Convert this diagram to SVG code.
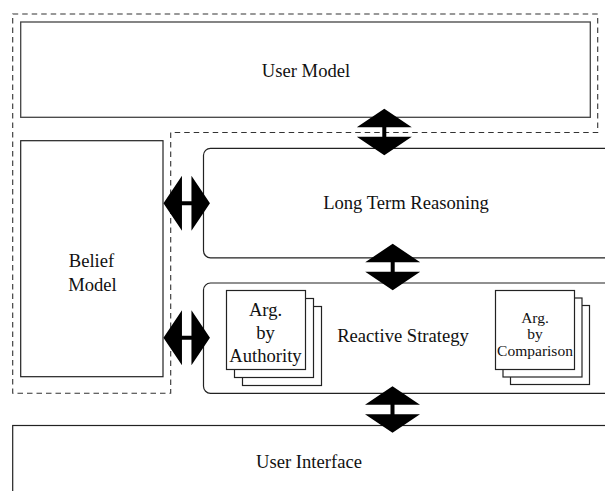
<svg xmlns="http://www.w3.org/2000/svg" width="605" height="491" viewBox="0 0 605 491">
<style>
.box{fill:#fff;stroke:#444;stroke-width:1.3}
.rbox{fill:#fff;stroke:#222;stroke-width:1.2}
.card{fill:#fff;stroke:#222;stroke-width:1.2}
.dash{fill:none;stroke:#333;stroke-width:1.1;stroke-dasharray:5.5,4}
.lbl{font-family:"Liberation Serif","Times New Roman",serif;font-size:18.6px;fill:#111;text-anchor:middle}
.sm{font-size:15.5px}
.arrow{fill:#000}
</style>
<defs>
<path id="dbl" d="M0,-23.25 L27.5,-4.75 L2,-4.75 L2,4.75 L27.5,4.75 L0,23.25 L-27.5,4.75 L-2,4.75 L-2,-4.75 L-27.5,-4.75 Z"/>
</defs>
<rect width="605" height="491" fill="#fff"/>
<path class="dash" d="M12.7,14 H597.7 V132.5 H170.7 V393.3 H12.7 Z"/>
<g id="user-model">
<rect class="box" x="20.7" y="22" width="569.6" height="95.3"/>
<text class="lbl" x="306" y="76.7">User Model</text>
</g>
<g id="belief-model">
<rect class="rbox" x="20.7" y="140.7" width="142.3" height="236"/>
<text class="lbl" x="91.5" y="266.7">Belief</text>
<text class="lbl" x="92.5" y="291">Model</text>
</g>
<g id="long-term-reasoning">
<rect class="rbox" x="203.5" y="148.3" width="420" height="109.5" rx="7"/>
<text class="lbl" x="406" y="209">Long Term Reasoning</text>
</g>
<g id="reactive-strategy">
<rect class="rbox" x="203.5" y="283" width="420" height="110.3" rx="7"/>
<text class="lbl" x="403" y="342.3">Reactive Strategy</text>
</g>
<g id="arg-authority">
<rect class="card" x="242.5" y="306.5" width="79" height="79"/>
<rect class="card" x="234.5" y="298.5" width="79" height="79"/>
<rect class="card" x="226.5" y="290.5" width="79" height="79"/>
<text class="lbl" x="265.5" y="315.7">Arg.</text>
<text class="lbl" x="265.5" y="338.5">by</text>
<text class="lbl" x="265.5" y="361.7">Authority</text>
</g>
<g id="arg-comparison">
<rect class="card" x="510.5" y="305.5" width="79" height="79"/>
<rect class="card" x="503" y="298" width="79" height="79"/>
<rect class="card" x="495.5" y="290.5" width="79" height="79"/>
<text class="lbl sm" x="535" y="323">Arg.</text>
<text class="lbl sm" x="535" y="339">by</text>
<text class="lbl sm" x="535" y="355.5">Comparison</text>
</g>
<g id="user-interface">
<rect class="rbox" x="12.7" y="425.5" width="620" height="100"/>
<text class="lbl" x="309" y="467.7">User Interface</text>
</g>
<g id="connectors">
<use href="#dbl" class="arrow" transform="translate(384.3,132)"/>
<use href="#dbl" class="arrow" transform="translate(392.7,267)"/>
<use href="#dbl" class="arrow" transform="translate(392.5,409.5)"/>
<use href="#dbl" class="arrow" transform="translate(186.7,203.3) rotate(90)"/>
<use href="#dbl" class="arrow" transform="translate(186.7,337.7) rotate(90)"/>
</g>
</svg>
